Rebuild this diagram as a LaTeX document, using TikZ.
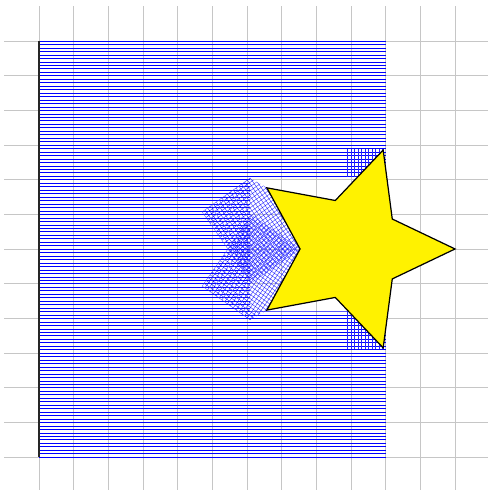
\documentclass[tikz,border=0pt]{standalone}
\tikzset{
  gridline/.style={draw=gray!45, line width=0.5pt},
  hline/.style={draw=blue, line width=0.32pt},
  hatchline/.style={draw=blue!85, line width=0.3pt},
  axisline/.style={draw=black!85, line width=1.2pt},
  starshape/.style={draw=black, fill=yellow, line width=1pt, line join=miter},
}
\begin{document}
\begin{tikzpicture}[x=1cm,y=1cm]
\useasboundingbox (-1.125,-0.952) rectangle (12.922,13.181);
% grid
\foreach \i in {0,...,12} {
  \draw[gridline] (-1,\i) -- (13,\i);
  \draw[gridline] (\i,-1) -- (\i,13);
}
% key points
\coordinate (B) at (4.70,7.07);
\coordinate (A) at (6.09,8.05);
\coordinate (D) at (4.70,4.93);
\coordinate (E) at (6.09,3.95);
\coordinate (T1) at (6.573,7.763);
\coordinate (T2) at (6.573,4.237);
\coordinate (S) at (7.53,6.00);
% horizontal lines with hole
\begin{scope}[even odd rule]
  \clip (-2,-2) rectangle (14,14) (6.09,8.08) rectangle (10.1,4.2);
  \foreach \k in {0,...,120} \draw[hline] (0,{\k/10}) -- (10,{\k/10});
\end{scope}
% rotated hatched regions
\begin{scope}
  \clip (B) -- (A) -- (T1) -- (S) -- (6.13,5.02) -- cycle;
  \begin{scope}[shift={(B)}, rotate=35]
    \draw[hatchline] (0,-3) grid[step=0.1] (3,0.5);
  \end{scope}
\end{scope}
\begin{scope}
  \clip (D) -- (E) -- (T2) -- (S) -- (6.13,6.98) -- cycle;
  \begin{scope}[shift={(D)}, rotate=-35]
    \draw[hatchline] (0,-0.5) grid[step=0.1] (3,3);
  \end{scope}
\end{scope}
% vertical lines near star tips
\foreach \k in {0,...,10} {
  \draw[hatchline] ({8.9+\k/10},8.08) -- ({8.9+\k/10},8.88);
  \draw[hatchline] ({8.9+\k/10},3.12) -- ({8.9+\k/10},4.2);
}
% axis
\draw[axisline] (0,0) -- (0,12);
% star
\begin{scope}[shift={(9,6)}]
  \draw[starshape] (0:3) -- (36:1.47) -- (72:3) -- (108:1.47) -- (144:3) -- (180:1.47)
    -- (216:3) -- (252:1.47) -- (288:3) -- (324:1.47) -- cycle;
\end{scope}
\end{tikzpicture}
\end{document}
